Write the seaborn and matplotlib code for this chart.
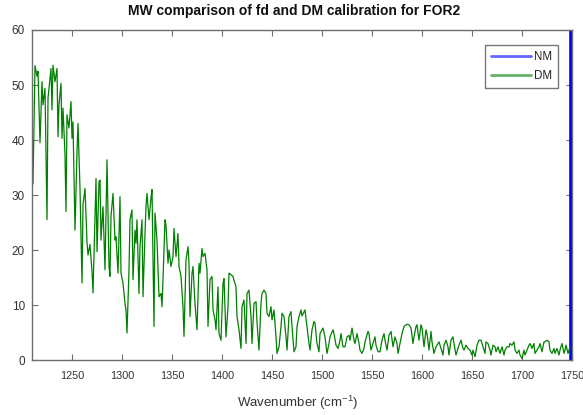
import matplotlib
matplotlib.use("Agg")
import matplotlib.pyplot as plt
import seaborn as sns
import pandas as pd

# ---------------- data ----------------
dm_wavenumber = [
    1210, 1211, 1213, 1215, 1216, 1218, 1220, 1221, 1223, 1225, 1226, 1229, 1230, 1231, 1233,
    1235, 1236, 1237, 1239, 1240, 1241, 1243, 1244, 1245, 1247, 1249, 1250, 1251, 1253, 1255,
    1256, 1258, 1260, 1261, 1263, 1265, 1266, 1268, 1270, 1271, 1273, 1274, 1275, 1277, 1278,
    1279, 1281, 1283, 1285, 1287, 1288, 1289, 1291, 1293, 1294, 1296, 1298, 1299, 1301, 1303,
    1304, 1305, 1307, 1308, 1310, 1311, 1313, 1314, 1315, 1317, 1318, 1320, 1321, 1323, 1324,
    1325, 1327, 1329, 1330, 1332, 1333, 1335, 1337, 1339, 1340, 1341, 1343, 1344, 1346, 1347,
    1349, 1351, 1352, 1354, 1356, 1357, 1359, 1361, 1362, 1364, 1366, 1367, 1368, 1370, 1371,
    1373, 1375, 1377, 1378, 1380, 1381, 1383, 1385, 1386, 1388, 1390, 1391, 1393, 1394, 1396,
    1397, 1399, 1401, 1402, 1404, 1406, 1407, 1409, 1411, 1412, 1414, 1415, 1417, 1419, 1420,
    1422, 1424, 1425, 1427, 1429, 1430, 1432, 1434, 1435, 1437, 1439, 1440, 1442, 1444, 1445,
    1447, 1449, 1450, 1452, 1454, 1455, 1457, 1459, 1460, 1462, 1464, 1465, 1467, 1469, 1470,
    1472, 1474, 1475, 1477, 1479, 1480, 1483, 1485, 1487, 1488, 1490, 1492, 1493, 1495, 1497,
    1498, 1501, 1503, 1505, 1507, 1508, 1511, 1512, 1514, 1516, 1518, 1519, 1521, 1523, 1525,
    1527, 1528, 1530, 1532, 1533, 1535, 1537, 1538, 1540, 1542, 1543, 1546, 1547, 1549, 1551,
    1553, 1554, 1556, 1558, 1560, 1562, 1563, 1565, 1567, 1569, 1571, 1573, 1575, 1576, 1578,
    1580, 1582, 1585, 1587, 1589, 1591, 1592, 1594, 1595, 1597, 1599, 1600, 1602, 1604, 1605,
    1607, 1609, 1610, 1612, 1614, 1616, 1617, 1619, 1621, 1622, 1624, 1626, 1627, 1629, 1631,
    1632, 1634, 1636, 1637, 1639, 1641, 1642, 1644, 1646, 1648, 1650, 1651, 1653, 1655, 1657,
    1659, 1661, 1663, 1664, 1666, 1668, 1669, 1671, 1673, 1674, 1676, 1678, 1680, 1682, 1683,
    1685, 1687, 1688, 1690, 1692, 1693, 1695, 1697, 1698, 1700, 1702, 1703, 1705, 1707, 1708,
    1710, 1712, 1713, 1715, 1717, 1718, 1720, 1722, 1723, 1725, 1727, 1728, 1730, 1732, 1733,
    1735, 1737, 1738, 1740, 1742, 1743, 1744, 1746, 1748,
]
dm_value = [
    44.0, 32.0, 53.5, 51.6, 52.5, 39.5, 50.6, 46.4, 49.4, 25.5, 47.6, 53.0, 45.5, 53.6, 50.6,
    53.0, 40.6, 46.4, 50.3, 40.3, 45.8, 37.3, 27.0, 44.6, 42.2, 47.0, 40.3, 43.3, 23.6, 37.9,
    43.0, 31.2, 14.0, 28.2, 31.2, 21.5, 19.1, 21.0, 16.1, 12.2, 26.4, 33.0, 19.7, 32.4, 32.7,
    21.8, 27.9, 16.4, 36.4, 17.0, 15.2, 26.1, 30.3, 21.8, 22.4, 15.8, 29.7, 15.8, 14.0, 10.3,
    9.1, 4.9, 16.4, 25.5, 27.3, 14.6, 23.6, 21.2, 25.5, 12.1, 20.6, 25.5, 11.5, 23.0, 27.9,
    30.3, 25.5, 29.5, 31.0, 6.1, 26.7, 21.8, 11.5, 12.1, 9.7, 14.6, 25.5, 24.5, 17.6, 20.0,
    17.0, 18.8, 23.9, 18.8, 23.0, 17.0, 15.2, 9.7, 4.3, 18.2, 20.6, 17.6, 7.9, 15.8, 17.0,
    10.3, 5.5, 17.6, 15.8, 20.3, 18.8, 19.4, 16.4, 6.1, 14.6, 15.2, 9.1, 7.3, 5.5, 13.3,
    4.8, 3.6, 13.9, 14.8, 4.2, 9.7, 15.8, 15.5, 15.2, 14.5, 13.3, 7.9, 5.5, 2.1, 9.7,
    10.9, 3.0, 12.1, 12.7, 7.9, 3.0, 10.3, 10.6, 6.9, 1.8, 10.3, 12.1, 12.7, 12.1, 8.5,
    7.9, 9.7, 7.3, 9.1, 4.2, 1.2, 2.4, 6.1, 8.5, 7.9, 4.2, 1.8, 7.9, 8.8, 6.1,
    1.5, 2.4, 6.1, 7.9, 9.1, 8.0, 9.1, 6.1, 3.0, 1.8, 5.5, 7.0, 6.7, 3.0, 1.5,
    4.8, 5.8, 4.2, 1.2, 3.0, 4.2, 5.5, 4.8, 2.7, 2.1, 3.6, 4.8, 2.4, 2.4, 4.2,
    4.5, 3.6, 5.8, 3.6, 3.0, 4.8, 3.0, 1.8, 1.2, 2.1, 3.3, 5.2, 4.8, 1.8, 3.0,
    4.2, 2.7, 1.5, 1.5, 3.6, 4.8, 3.6, 1.8, 4.5, 5.2, 2.4, 4.2, 3.0, 1.2, 3.0,
    4.8, 6.1, 6.5, 6.4, 5.8, 3.0, 4.2, 6.1, 6.4, 3.6, 6.4, 5.8, 2.4, 5.5, 4.8,
    1.8, 5.2, 3.3, 1.2, 2.4, 3.0, 3.3, 2.1, 0.9, 2.7, 3.6, 2.4, 0.9, 3.6, 4.2,
    3.0, 0.9, 2.1, 2.7, 3.6, 2.1, 1.8, 2.7, 2.1, 1.8, 0.9, 1.8, 0.6, 2.7, 3.6,
    3.6, 2.4, 1.2, 3.3, 3.0, 1.8, 0.9, 2.7, 2.4, 1.5, 2.4, 1.2, 2.4, 0.9, 1.8,
    2.4, 2.4, 3.0, 2.7, 3.3, 1.8, 1.2, 1.8, 0.9, 0.3, 1.8, 0.9, 1.8, 2.7, 3.0,
    2.1, 3.0, 1.2, 1.8, 2.4, 3.0, 1.5, 3.3, 3.3, 3.6, 3.3, 1.8, 1.2, 2.1, 1.2,
    2.1, 0.9, 1.8, 3.0, 1.2, 1.8, 2.7, 1.2, 2.4,
]
nm_wavenumber = [1749.0, 1749.0]
nm_value = [0.0, 80.0]

series_names = ["NM", "DM"]
series_colors = ["#0000ff", "#008000"]

x_ticks = [1250, 1300, 1350, 1400, 1450, 1500, 1550, 1600, 1650, 1700, 1750]
y_ticks = [0, 10, 20, 30, 40, 50, 60]

title_text = "MW comparison of fd and DM calibration for FOR2"
xlabel_text = "Wavenumber (cm$^{-1}$)"

# ---------------- style ----------------
sns.set_theme(style="white")
fam = ["Liberation Sans", "DejaVu Sans"]
plt.rcParams["font.family"] = fam
plt.rcParams["mathtext.fontset"] = "custom"
plt.rcParams["mathtext.rm"] = "Liberation Sans"
plt.rcParams["mathtext.it"] = "Liberation Sans"

tick_size = 7.8
title_size = 10

fig = plt.figure(figsize=(5.83, 4.15), dpi=100)
ax = fig.add_axes([32 / 583, 1 - 360 / 415, 540 / 583, 330 / 415])

df_nm = pd.DataFrame({"x": nm_wavenumber, "y": nm_value})
df_dm = pd.DataFrame({"x": dm_wavenumber, "y": dm_value})
sns.lineplot(data=df_nm, x="x", y="y", ax=ax, color=series_colors[0], lw=2.6,
             estimator=None, sort=False, label=series_names[0])
sns.lineplot(data=df_dm, x="x", y="y", ax=ax, color=series_colors[1], lw=0.9,
             estimator=None, sort=False, label=series_names[1])

ax.set_xlim(1210, 1750)
ax.set_ylim(0, 60)
ax.set_xticks(x_ticks)
ax.set_yticks(y_ticks)
ax.set_xlabel("")
ax.set_ylabel("")

spine_col = "#6e6e6e"
for s in ax.spines.values():
    s.set_visible(True)
    s.set_color(spine_col)
    s.set_linewidth(1.0)
ax.tick_params(axis="both", which="both", direction="in", length=4, width=0.8,
               color=spine_col, labelcolor="#333333", labelsize=tick_size,
               top=True, right=True, bottom=True, left=True)
ax.tick_params(axis="x", pad=8)
ax.tick_params(axis="y", pad=5, labelsize=8.5)

leg = ax.legend(loc="upper right", bbox_to_anchor=((558 - 32) / 540, (360 - 45) / 330),
                fancybox=False, frameon=True, edgecolor="#777777", framealpha=1,
                fontsize=8.3, handlelength=3.4, handletextpad=0.25,
                borderpad=0.55, labelspacing=0.55, borderaxespad=0)
leg.get_frame().set_linewidth(1.0)
for line in leg.get_lines():
    line.set_linewidth(2.0)
    line.set_alpha(0.6)
for t in leg.get_texts():
    t.set_color("#222222")

fig.text(294.5 / 583, 1 - 11 / 415, title_text, ha="center", va="center",
         fontsize=title_size, fontweight="bold", color="#111111")
fig.text(298 / 583, 1 - 403 / 415, xlabel_text, ha="center", va="center",
         fontsize=9.5, color="#333333")

fig.savefig("out.png", dpi=100)
